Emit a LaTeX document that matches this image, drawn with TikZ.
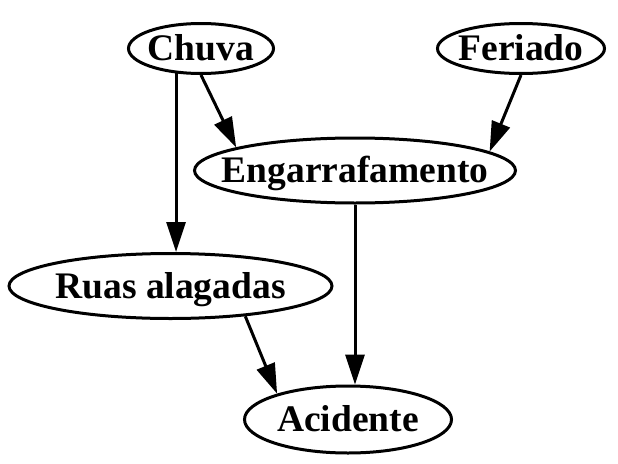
\documentclass[tikz,border=0pt]{standalone}
\usepackage{fontspec}
\setmainfont{Liberation Serif}
\usetikzlibrary{shapes.geometric,arrows.meta}
\newcommand\nodetext[1]{\makebox[0pt][c]{#1}}
\begin{document}
\begin{tikzpicture}[x=1pt,y=-1pt,
  nodebox/.style={ellipse,draw,line width=3pt,inner sep=0pt,
    font=\fontsize{37.5}{37.5}\selectfont\bfseries,
    text height=24.8pt,text depth=0pt},
  arr/.style={line width=3pt,-{Triangle[length=30pt,width=19pt]}}]
\useasboundingbox (0,0) rectangle (618,463);
\node[nodebox,minimum width=145pt,minimum height=50pt] (chuva) at (201,48.5) {\nodetext{Chuva}};
\node[nodebox,minimum width=167pt,minimum height=50pt] (feriado) at (521,48.5) {\nodetext{Feriado}};
\node[nodebox,minimum width=321pt,minimum height=65pt] (engarr) at (355,170.5) {\nodetext{Engarrafamento}};
\node[nodebox,minimum width=323pt,minimum height=65pt] (ruas) at (170.5,286) {\nodetext{Ruas alagadas}};
\node[nodebox,minimum width=207pt,minimum height=67pt] (acid) at (348,419.5) {\nodetext{Acidente}};
\draw[arr] (chuva.225) -- (chuva.225 |- ruas.north);
\draw[arr] (chuva.south) -- (engarr.169);
\draw[arr] (feriado.south) -- (engarr.8.5);
\draw[arr] (engarr.south) -- (engarr.south |- acid.north);
\draw[arr] (ruas.-22) -- (acid.160);
\end{tikzpicture}
\end{document}
